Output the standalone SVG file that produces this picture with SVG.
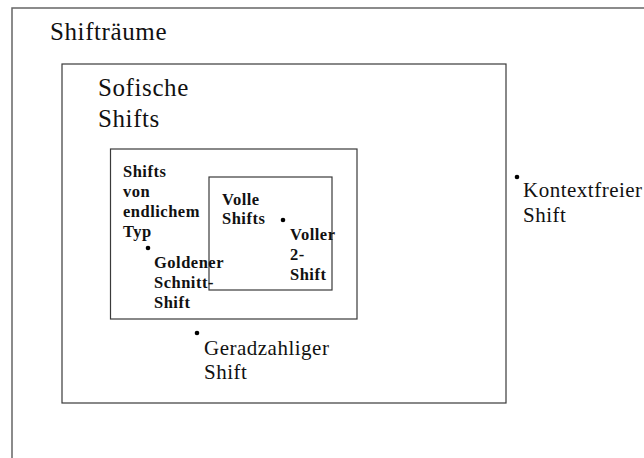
<svg xmlns="http://www.w3.org/2000/svg" width="644" height="458" viewBox="0 0 644 458" font-family="'Liberation Serif', 'Times New Roman', serif">
  <style>
    .box { fill: none; stroke: #3a3a3a; stroke-width: 1.2; }
    .outer { fill: none; stroke: #666; stroke-width: 1.5; }
    text { font-family: "Liberation Serif", "Times New Roman", serif; fill: #111; }
    .big { font-size: 25px; letter-spacing: 0.6px; }
    .mid { font-size: 21px; letter-spacing: 0.5px; }
    .small { font-size: 16.5px; font-weight: bold; letter-spacing: 0.5px; }
    .dot { fill: #000; }
  </style>
  <rect x="0" y="0" width="644" height="458" fill="#fff"/>

  <g id="shiftraeume">
    <rect class="outer" x="12" y="8" width="700" height="520"/>
    <text class="big" x="50" y="40">Shifträume</text>
  </g>

  <g id="sofische-shifts">
    <rect class="box" x="62" y="64" width="444" height="339"/>
    <text class="big" x="98" y="96">Sofische</text>
    <text class="big" x="98" y="127">Shifts</text>
  </g>

  <g id="endlicher-typ">
    <rect class="box" x="110.5" y="149" width="246.5" height="170"/>
    <text class="small" x="123" y="177">Shifts</text>
    <text class="small" x="123" y="197">von</text>
    <text class="small" x="123" y="217">endlichem</text>
    <text class="small" x="123" y="237">Typ</text>
  </g>

  <g id="volle-shifts">
    <rect class="box" x="209" y="177" width="123" height="113"/>
    <text class="small" x="222" y="205">Volle</text>
    <text class="small" x="222" y="224">Shifts</text>
  </g>

  <g id="goldener-schnitt">
    <circle class="dot" cx="148" cy="248" r="2.3"/>
    <text class="small" x="154" y="268">Goldener</text>
    <text class="small" x="154" y="288">Schnitt-</text>
    <text class="small" x="154" y="308">Shift</text>
  </g>

  <g id="voller-2-shift">
    <circle class="dot" cx="283" cy="220" r="2.3"/>
    <text class="small" x="290" y="240">Voller</text>
    <text class="small" x="290" y="260">2-</text>
    <text class="small" x="290" y="280">Shift</text>
  </g>

  <g id="geradzahliger-shift">
    <circle class="dot" cx="197" cy="333" r="2.3"/>
    <text class="mid" x="204" y="355">Geradzahliger</text>
    <text class="mid" x="204" y="379">Shift</text>
  </g>

  <g id="kontextfreier-shift">
    <circle class="dot" cx="517" cy="177" r="2.3"/>
    <text class="mid" x="523" y="197">Kontextfreier</text>
    <text class="mid" x="523" y="222">Shift</text>
  </g>

  <g id="connectors"/>
</svg>
